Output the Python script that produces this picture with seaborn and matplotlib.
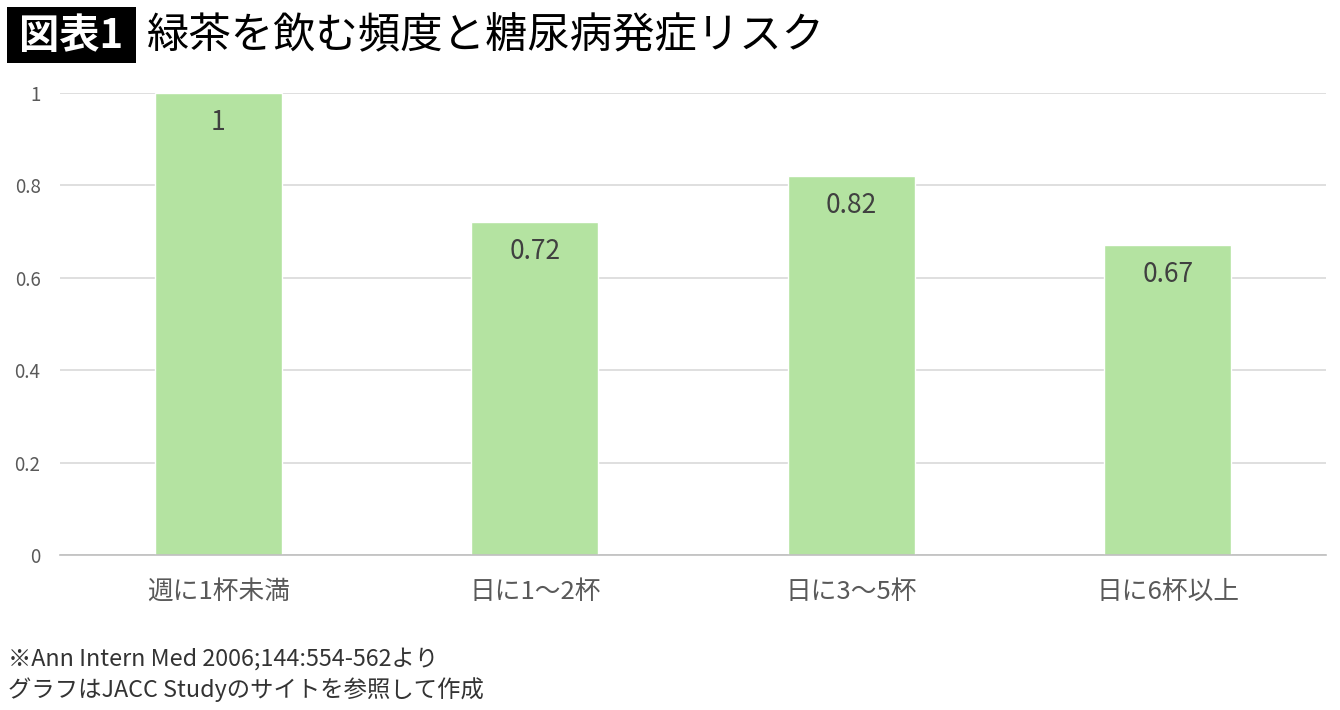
import matplotlib
matplotlib.use("Agg")
import matplotlib.pyplot as plt
import seaborn as sns
import pandas as pd
from matplotlib.patches import Rectangle

categories = ["週に1杯未満", "日に1〜2杯", "日に3〜5杯", "日に6杯以上"]
values = [1.0, 0.72, 0.82, 0.67]
value_labels = ["1", "0.72", "0.82", "0.67"]
yticks = [0, 0.2, 0.4, 0.6, 0.8, 1.0]
ytick_labels = ["0", "0.2", "0.4", "0.6", "0.8", "1"]
title_tag = "図表1"
title = "緑茶を飲む頻度と糖尿病発症リスク"
notes = ["※Ann Intern Med 2006;144:554-562より", "グラフはJACC Studyのサイトを参照して作成"]

sns.set_theme(style="white")
plt.rcParams["font.family"] = ["Noto Sans CJK JP", "DejaVu Sans"]

W, H = 1340, 710
fig = plt.figure(figsize=(W / 100, H / 100), dpi=100)
ax = fig.add_axes([60 / W, 1 - 555 / H, (1326 - 60) / W, (555 - 93) / H])

df = pd.DataFrame({"cat": categories, "val": values})
sns.barplot(data=df, x="cat", y="val", color="#b4e3a1", saturation=1, width=0.4, ax=ax)

ax.set_xlim(-0.5, len(categories) - 0.5)
ax.set_ylim(0, 1)
ax.set_yticks(yticks)
ax.set_yticklabels(ytick_labels, fontsize=13.5, color="#595959")
ax.yaxis.grid(True, color="#d9d9d9", linewidth=1.2)
ax.set_axisbelow(True)
ax.tick_params(axis="y", length=0, pad=14)
ax.set_xlabel("")
ax.set_ylabel("")
ax.set_xticks(range(len(categories)))
ax.set_xticklabels(categories, fontsize=18.5, color="#595959")
ax.tick_params(axis="x", which="major", length=0, pad=17)
ax.set_xticks([i - 0.5 for i in range(len(categories) + 1)], minor=True)
ax.tick_params(axis="x", which="minor", length=7, width=1.2, color="#bfbfbf", direction="out")

for s in ["top", "right", "left"]:
    ax.spines[s].set_visible(False)
ax.spines["bottom"].set_color("#bfbfbf")
ax.spines["bottom"].set_linewidth(1.2)

for i, (v, lab) in enumerate(zip(values, value_labels)):
    ax.annotate(lab, (i, v), xytext=(0, -21), textcoords="offset points",
                ha="center", va="center", fontsize=19, color="#404040")

fig.patches.append(Rectangle((7 / W, 1 - 63 / H), 129 / W, 56 / H, transform=fig.transFigure,
                             facecolor="black", edgecolor="none"))
fig.text(71 / W, 1 - 36 / H, title_tag, fontsize=29, color="white", weight="bold",
         ha="center", va="center")
fig.text(147 / W, 1 - 36 / H, title, fontsize=30.5, color="black", weight="normal",
         ha="left", va="center")

fig.text(8 / W, 1 - 659 / H, notes[0], fontsize=16.8, color="#333333", ha="left", va="center")
fig.text(8 / W, 1 - 690 / H, notes[1], fontsize=16.8, color="#333333", ha="left", va="center")

fig.savefig("out.png", dpi=100)
